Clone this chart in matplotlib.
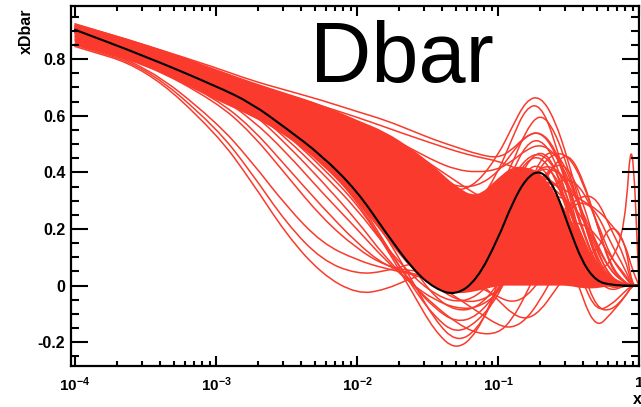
import matplotlib
matplotlib.use('Agg')
import matplotlib.pyplot as plt
import numpy as np
from matplotlib.path import Path
from matplotlib.patches import PathPatch
from matplotlib.ticker import LogLocator, MultipleLocator, FuncFormatter, NullFormatter

plt.rcParams['font.family'] = ['Liberation Sans', 'DejaVu Sans']
plt.rcParams['mathtext.fontset'] = 'custom'
plt.rcParams['mathtext.rm'] = 'Liberation Sans:bold'
plt.rcParams['mathtext.bf'] = 'Liberation Sans:bold'
plt.rcParams['mathtext.it'] = 'Liberation Sans:bold'

log_x = [-4, -3.5, -3, -2.75, -2.5, -2.25, -2, -1.8, -1.6, -1.45, -1.3, -1.15,
         -1.0, -0.9, -0.8, -0.7, -0.6, -0.5, -0.4, -0.3, -0.2, -0.1, -0.05, 0]

central = [0.904, 0.81, 0.705, 0.645, 0.555, 0.46, 0.335, 0.19, 0.055, -0.01, -0.035, 0.02,
           0.165, 0.29, 0.38, 0.41, 0.35, 0.21, 0.08, 0.015, 0.003, 0.0, 0.0, 0.0]

# solid core where the replicas overlap completely
core_upper = [0.925, 0.855, 0.765, 0.72, 0.68, 0.64, 0.585, 0.545, 0.48, 0.42, 0.35, 0.31,
              0.38, 0.42, 0.42, 0.40, 0.33, 0.25, 0.15, 0.08, 0.03, 0.01, 0.0, 0.0]
core_lower = [0.85, 0.78, 0.655, 0.60, 0.53, 0.43, 0.30, 0.17, 0.05, -0.01, -0.03, -0.02,
              0.0, 0.0, 0.0, 0.0, 0.0, 0.0, -0.01, -0.01, 0.0, 0.0, 0.0, 0.0]

replicas_upper = [
    [0.925, 0.85, 0.77, 0.725, 0.69, 0.655, 0.615, 0.585, 0.545, 0.515, 0.49, 0.465, 0.45, 0.48, 0.53, 0.545, 0.48, 0.34, 0.19, 0.07, 0.01, 0.0, 0.0, 0.0],
    [0.92, 0.845, 0.76, 0.715, 0.675, 0.63, 0.58, 0.52, 0.44, 0.38, 0.33, 0.36, 0.46, 0.56, 0.655, 0.67, 0.59, 0.44, 0.25, 0.10, 0.02, 0.0, 0.0, 0.0],
    [0.91, 0.835, 0.75, 0.70, 0.655, 0.60, 0.54, 0.46, 0.36, 0.28, 0.24, 0.28, 0.40, 0.52, 0.63, 0.64, 0.52, 0.33, 0.14, 0.02, -0.02, 0.0, 0.0, 0.0],
    [0.915, 0.84, 0.755, 0.705, 0.66, 0.61, 0.56, 0.50, 0.42, 0.35, 0.29, 0.27, 0.33, 0.43, 0.55, 0.61, 0.55, 0.41, 0.24, 0.09, 0.01, 0.0, 0.0, 0.0],
    [0.905, 0.83, 0.745, 0.70, 0.66, 0.62, 0.575, 0.53, 0.47, 0.42, 0.37, 0.32, 0.28, 0.26, 0.28, 0.34, 0.43, 0.47, 0.38, 0.22, 0.06, 0.01, 0.0, 0.0],
    [0.91, 0.835, 0.75, 0.705, 0.665, 0.625, 0.58, 0.53, 0.48, 0.44, 0.41, 0.40, 0.41, 0.44, 0.48, 0.50, 0.47, 0.38, 0.25, 0.12, 0.03, 0.0, 0.0, 0.0],
    [0.90, 0.825, 0.745, 0.70, 0.655, 0.60, 0.545, 0.49, 0.43, 0.38, 0.35, 0.35, 0.40, 0.47, 0.53, 0.545, 0.49, 0.36, 0.20, 0.07, 0.0, 0.0, 0.0, 0.0],
]

replicas_mid = [
    [0.915, 0.83, 0.74, 0.69, 0.63, 0.57, 0.50, 0.42, 0.33, 0.26, 0.21, 0.22, 0.30, 0.38, 0.45, 0.47, 0.42, 0.30, 0.16, 0.05, 0.0, 0.0, 0.0, 0.0],
    [0.905, 0.825, 0.735, 0.68, 0.615, 0.545, 0.46, 0.37, 0.27, 0.19, 0.14, 0.16, 0.26, 0.36, 0.44, 0.46, 0.39, 0.25, 0.11, 0.03, 0.0, 0.0, 0.0, 0.0],
    [0.895, 0.815, 0.725, 0.67, 0.605, 0.53, 0.45, 0.35, 0.24, 0.15, 0.08, 0.08, 0.16, 0.26, 0.36, 0.42, 0.42, 0.36, 0.26, 0.15, 0.05, 0.01, 0.0, 0.0],
    [0.92, 0.84, 0.75, 0.695, 0.635, 0.57, 0.49, 0.41, 0.33, 0.27, 0.23, 0.20, 0.20, 0.22, 0.26, 0.30, 0.32, 0.30, 0.24, 0.14, 0.05, 0.01, 0.0, 0.0],
    [0.90, 0.815, 0.725, 0.675, 0.615, 0.55, 0.48, 0.41, 0.34, 0.29, 0.25, 0.22, 0.20, 0.19, 0.19, 0.20, 0.21, 0.22, 0.22, 0.18, 0.10, 0.04, 0.0, 0.0],
    [0.91, 0.82, 0.73, 0.675, 0.61, 0.535, 0.45, 0.36, 0.27, 0.21, 0.17, 0.17, 0.22, 0.28, 0.33, 0.36, 0.36, 0.33, 0.30, 0.27, 0.22, 0.15, 0.06, 0.0],
    [0.905, 0.83, 0.75, 0.71, 0.675, 0.635, 0.595, 0.56, 0.525, 0.50, 0.475, 0.455, 0.44, 0.42, 0.40, 0.37, 0.32, 0.24, 0.14, 0.05, 0.0, 0.0, 0.0, 0.0],
    [0.90, 0.82, 0.735, 0.685, 0.63, 0.565, 0.49, 0.40, 0.30, 0.22, 0.16, 0.13, 0.15, 0.19, 0.25, 0.31, 0.36, 0.38, 0.34, 0.23, 0.10, 0.03, 0.0, 0.0],
    [0.91, 0.83, 0.74, 0.685, 0.62, 0.55, 0.47, 0.38, 0.28, 0.20, 0.15, 0.18, 0.29, 0.40, 0.50, 0.52, 0.45, 0.30, 0.14, 0.03, -0.01, 0.0, 0.0, 0.0],
    [0.895, 0.815, 0.73, 0.68, 0.62, 0.555, 0.48, 0.40, 0.32, 0.26, 0.21, 0.19, 0.21, 0.26, 0.34, 0.42, 0.47, 0.46, 0.37, 0.22, 0.07, 0.01, 0.0, 0.0],
    [0.91, 0.815, 0.71, 0.65, 0.56, 0.465, 0.345, 0.21, 0.08, 0.02, 0.0, 0.06, 0.20, 0.32, 0.41, 0.43, 0.35, 0.20, 0.07, 0.01, 0.0, 0.0, 0.0, 0.0],
    [0.90, 0.81, 0.715, 0.66, 0.585, 0.50, 0.40, 0.29, 0.17, 0.10, 0.06, 0.07, 0.15, 0.24, 0.33, 0.38, 0.37, 0.29, 0.17, 0.06, 0.0, 0.0, 0.0, 0.0],
]

replicas_right = [
    [0.905, 0.82, 0.73, 0.675, 0.61, 0.535, 0.45, 0.36, 0.27, 0.20, 0.15, 0.14, 0.17, 0.20, 0.22, 0.22, 0.18, 0.12, 0.05, 0.05, 0.08, 0.20, 0.58, 0.0],
    [0.90, 0.815, 0.725, 0.67, 0.60, 0.52, 0.43, 0.33, 0.22, 0.15, 0.10, 0.09, 0.11, 0.14, 0.18, 0.21, 0.24, 0.28, 0.32, 0.31, 0.20, 0.10, 0.0, 0.0],
    [0.905, 0.82, 0.73, 0.68, 0.615, 0.545, 0.465, 0.38, 0.29, 0.22, 0.17, 0.14, 0.13, 0.13, 0.15, 0.18, 0.22, 0.27, 0.30, 0.26, 0.15, 0.06, 0.0, 0.0],
    [0.91, 0.825, 0.735, 0.685, 0.625, 0.555, 0.47, 0.38, 0.28, 0.21, 0.17, 0.19, 0.27, 0.34, 0.38, 0.37, 0.28, 0.12, -0.05, -0.15, -0.10, -0.04, 0.0, 0.0],
    [0.895, 0.81, 0.72, 0.665, 0.59, 0.505, 0.40, 0.29, 0.17, 0.09, 0.05, 0.08, 0.18, 0.28, 0.36, 0.39, 0.33, 0.18, 0.01, -0.09, -0.07, -0.02, 0.0, 0.0],
    [0.90, 0.815, 0.73, 0.675, 0.61, 0.535, 0.45, 0.35, 0.24, 0.16, 0.11, 0.10, 0.13, 0.18, 0.23, 0.26, 0.25, 0.19, 0.10, 0.12, 0.22, 0.16, 0.0, 0.0],
    [0.905, 0.82, 0.725, 0.67, 0.60, 0.52, 0.43, 0.33, 0.22, 0.14, 0.10, 0.12, 0.22, 0.33, 0.43, 0.48, 0.43, 0.26, 0.05, -0.08, -0.09, -0.04, 0.0, 0.0],
]

replicas_dip = [
    [0.895, 0.805, 0.70, 0.635, 0.535, 0.42, 0.29, 0.14, -0.03, -0.16, -0.23, -0.17, 0.0, 0.17, 0.33, 0.42, 0.40, 0.28, 0.12, 0.02, 0.0, 0.0, 0.0, 0.0],
    [0.90, 0.81, 0.71, 0.65, 0.555, 0.45, 0.33, 0.18, 0.01, -0.12, -0.20, -0.16, -0.02, 0.14, 0.32, 0.45, 0.48, 0.40, 0.24, 0.08, 0.0, 0.0, 0.0, 0.0],
    [0.89, 0.80, 0.70, 0.64, 0.55, 0.44, 0.31, 0.15, -0.01, -0.11, -0.17, -0.13, -0.04, 0.08, 0.22, 0.33, 0.35, 0.28, 0.14, 0.03, 0.0, 0.0, 0.0, 0.0],
    [0.91, 0.815, 0.71, 0.645, 0.55, 0.44, 0.30, 0.14, 0.0, -0.08, -0.13, -0.11, -0.02, 0.10, 0.24, 0.36, 0.43, 0.42, 0.30, 0.13, 0.02, 0.0, 0.0, 0.0],
    [0.90, 0.815, 0.715, 0.655, 0.57, 0.47, 0.35, 0.21, 0.06, -0.04, -0.09, -0.08, 0.0, 0.12, 0.26, 0.38, 0.42, 0.35, 0.20, 0.06, 0.0, 0.0, 0.0, 0.0],
    [0.895, 0.81, 0.715, 0.66, 0.575, 0.475, 0.36, 0.23, 0.09, 0.0, -0.05, -0.06, -0.02, 0.05, 0.14, 0.22, 0.25, 0.22, 0.14, 0.05, 0.0, 0.0, 0.0, 0.0],
]

replicas_low = [
    [0.845, 0.77, 0.54, 0.37, 0.18, 0.04, -0.03, -0.015, 0.03, 0.05, 0.04, 0.0, -0.04, -0.06, -0.04, 0.02, 0.08, 0.11, 0.08, 0.03, 0.0, 0.0, 0.0, 0.0],
    [0.85, 0.775, 0.56, 0.40, 0.22, 0.09, 0.04, 0.05, 0.08, 0.09, 0.07, 0.02, -0.05, -0.10, -0.12, -0.09, -0.02, 0.05, 0.06, 0.03, 0.0, 0.0, 0.0, 0.0],
    [0.855, 0.78, 0.58, 0.44, 0.28, 0.15, 0.09, 0.06, 0.04, 0.01, -0.04, -0.09, -0.14, -0.15, -0.12, -0.05, 0.04, 0.10, 0.10, 0.05, 0.01, 0.0, 0.0, 0.0],
    [0.87, 0.79, 0.66, 0.56, 0.42, 0.28, 0.15, 0.07, 0.04, 0.03, 0.02, 0.03, 0.06, 0.12, 0.19, 0.24, 0.22, 0.14, 0.05, 0.0, 0.0, 0.0, 0.0, 0.0],
    [0.875, 0.795, 0.675, 0.59, 0.47, 0.33, 0.20, 0.09, 0.0, -0.05, -0.08, -0.08, -0.03, 0.06, 0.17, 0.26, 0.27, 0.19, 0.08, 0.01, 0.0, 0.0, 0.0, 0.0],
    [0.88, 0.80, 0.69, 0.615, 0.50, 0.37, 0.23, 0.10, 0.0, -0.07, -0.13, -0.17, -0.17, -0.12, -0.03, 0.08, 0.14, 0.14, 0.08, 0.02, 0.0, 0.0, 0.0, 0.0],
    [0.885, 0.805, 0.695, 0.625, 0.52, 0.40, 0.27, 0.14, 0.03, -0.03, -0.06, -0.04, 0.04, 0.15, 0.27, 0.36, 0.37, 0.29, 0.15, 0.04, 0.0, 0.0, 0.0, 0.0],
    [0.865, 0.785, 0.65, 0.54, 0.39, 0.24, 0.13, 0.07, 0.05, 0.05, 0.07, 0.11, 0.17, 0.22, 0.26, 0.27, 0.23, 0.15, 0.06, 0.0, 0.0, 0.0, 0.0, 0.0],
]

red = '#f93a2c'


def smooth_parts(lx, y):
    # quadratic bezier through the read points, drawn by matplotlib's path renderer
    p = np.column_stack([lx, y]).astype(float)
    mids = (p[:-1] + p[1:]) / 2
    verts = [p[0], mids[0]]
    codes = [Path.MOVETO, Path.LINETO]
    for i in range(1, len(p) - 1):
        verts += [p[i], mids[i]]
        codes += [Path.CURVE3, Path.CURVE3]
    verts.append(p[-1])
    codes.append(Path.LINETO)
    verts = np.array(verts)
    verts[:, 0] = 10.0 ** verts[:, 0]
    return verts, codes


def draw_curve(ax, y, **kw):
    v, c = smooth_parts(log_x, y)
    ax.add_patch(PathPatch(Path(v, c), fill=False, capstyle='round', joinstyle='round', **kw))


fig = plt.figure(figsize=(6.41, 4.07), dpi=100)
ax = fig.add_axes([0.1108, 0.1007, 0.8861, 0.8846])
ax.set_xscale('log')
ax.set_xlim(10 ** -4.028, 1.0)
ax.set_ylim(-0.284, 0.988)

vu, cu = smooth_parts(log_x, core_upper)
vl, cl = smooth_parts(log_x[::-1], core_lower[::-1])
cl[0] = Path.LINETO
core = Path(np.vstack([vu, vl, vu[:1]]), cu + cl + [Path.CLOSEPOLY])
ax.add_patch(PathPatch(core, facecolor=red, edgecolor='none', lw=0))

for group in (replicas_upper, replicas_mid, replicas_right, replicas_dip, replicas_low):
    for rep in group:
        draw_curve(ax, rep, edgecolor=red, lw=1.1)
draw_curve(ax, central, edgecolor='black', lw=1.5)

ax.xaxis.set_major_locator(LogLocator(base=10, numticks=10))
ax.xaxis.set_minor_locator(LogLocator(base=10, subs=np.arange(2, 10), numticks=20))
ax.xaxis.set_minor_formatter(NullFormatter())


def decade_label(v, pos):
    e = int(round(np.log10(v)))
    return '1' if e == 0 else r'$10^{%d}$' % e


ax.xaxis.set_major_formatter(FuncFormatter(decade_label))
ax.yaxis.set_major_locator(MultipleLocator(0.2))
ax.yaxis.set_minor_locator(MultipleLocator(0.05))
ax.yaxis.set_major_formatter(FuncFormatter(lambda v, p: '0' if abs(v) < 1e-9 else '%.1f' % v))

ax.tick_params(which='both', direction='in', top=True, right=True, width=1.5, colors='black')
ax.tick_params(axis='y', which='major', length=12, pad=4, labelsize=11.5)
ax.tick_params(axis='y', which='minor', length=6)
ax.tick_params(axis='x', which='major', length=7, pad=7, labelsize=11)
ax.tick_params(axis='x', which='minor', length=3.6)
for lab in ax.get_yticklabels() + ax.get_xticklabels():
    lab.set_fontweight('bold')
for s in ax.spines.values():
    s.set_linewidth(1.6)
    s.set_zorder(5)

fig.text(26 / 641, 1 - 31 / 407, 'xDbar', rotation=90, ha='center', va='center',
         fontsize=11.5, fontweight='bold')
fig.text(637 / 641, 1 - 400 / 407, 'x', ha='center', va='center',
         fontsize=11.5, fontweight='bold')
fig.text(402 / 641, 1 - 82 / 407, 'Dbar', ha='center', va='baseline', fontsize=61)

fig.savefig('out.png', dpi=100)
